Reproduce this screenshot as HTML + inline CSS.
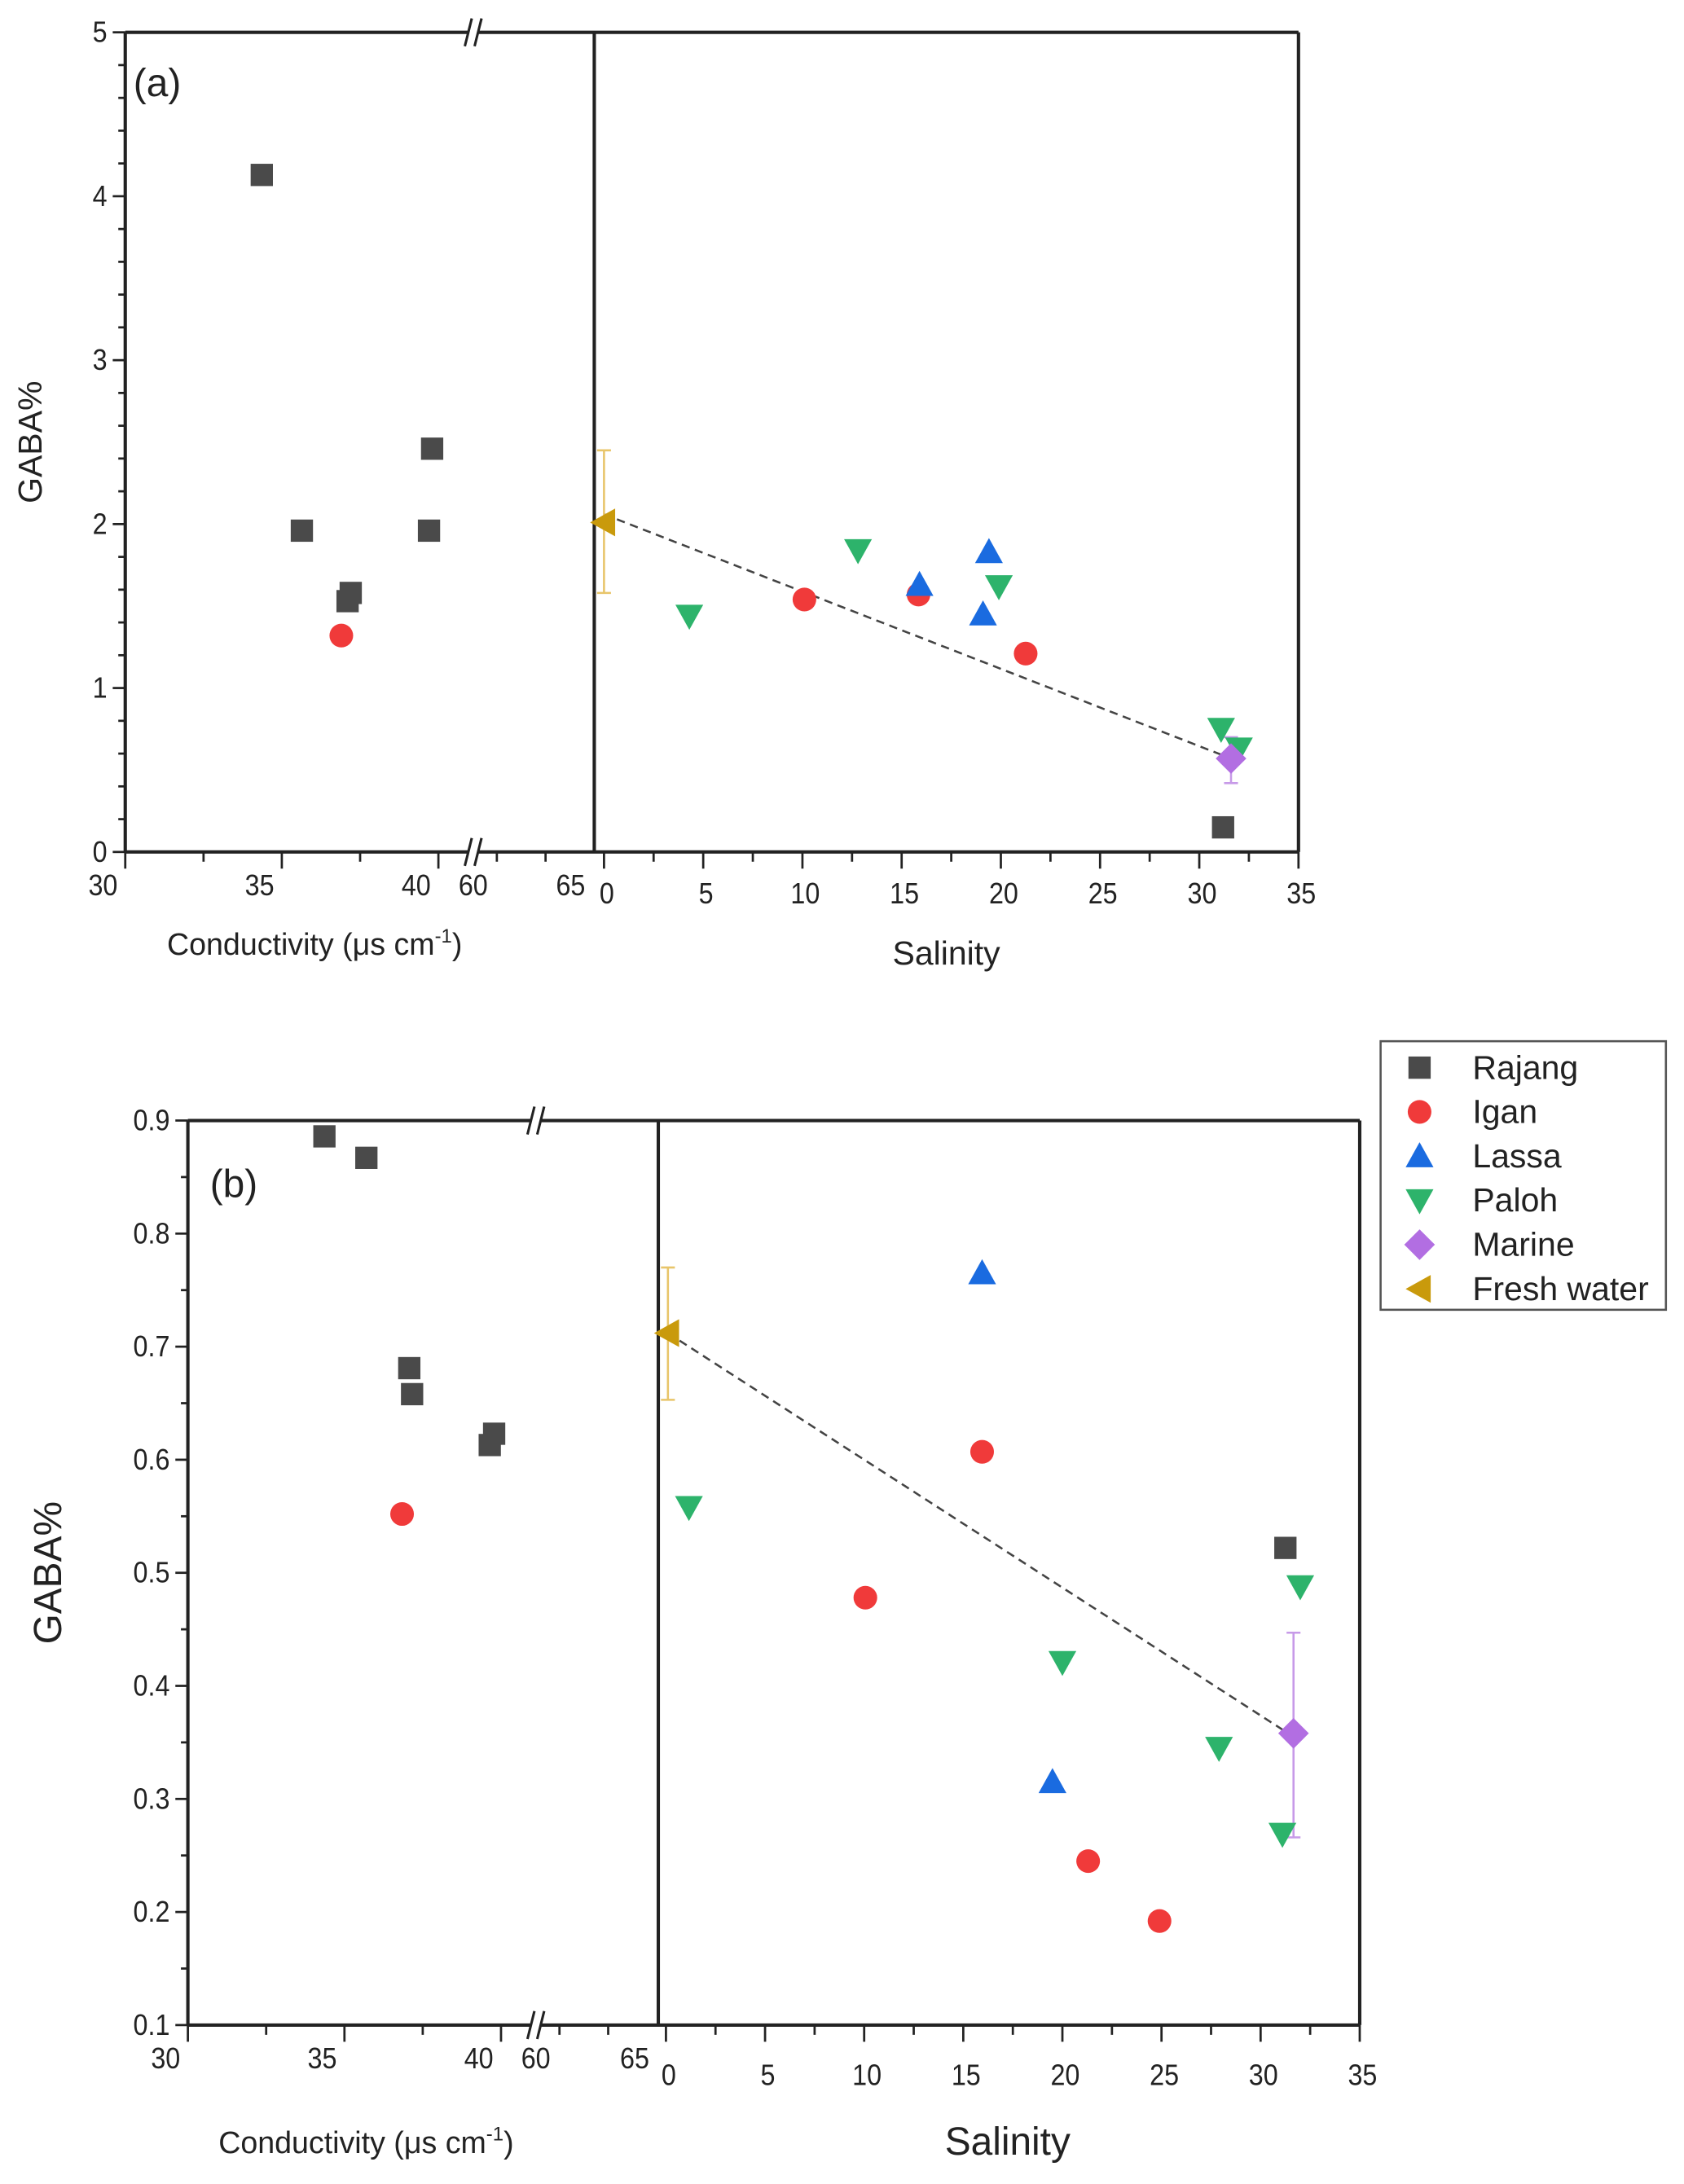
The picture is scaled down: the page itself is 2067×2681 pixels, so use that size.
<!DOCTYPE html>
<html><head><meta charset="utf-8"><style>
html,body{margin:0;padding:0;background:#fff;}
svg{display:block;font-family:"Liberation Sans",Arial,sans-serif;}
</style></head><body>
<svg id="chart" width="2067" height="2681" viewBox="0 0 1210 1569" xmlns="http://www.w3.org/2000/svg"></svg>
<script>
// ---------- DATA ----------
// Panel (a)
const aCondRajangX=[34.36,35.64,37.1,37.2,39.8,39.7];
const aCondRajangY=[4.13,1.96,1.53,1.58,2.46,1.96];
const aCondIganX=[36.9];
const aCondIganY=[1.32];
const aSalRajangX=[31.2];
const aSalRajangY=[0.15];
const aSalIganX=[10.1,15.85,21.25];
const aSalIganY=[1.54,1.57,1.21];
const aSalLassaX=[15.9,19.4,19.1];
const aSalLassaY=[1.63,1.83,1.45];
const aSalPalohX=[4.3,12.8,19.9,31.1,32.0];
const aSalPalohY=[1.44,1.84,1.62,0.75,0.63];
const aMarineX=[31.6];const aMarineY=[0.57];const aMarineErr=[0.42,0.70];
const aFreshX=[0];const aFreshY=[2.01];const aFreshErr=[1.58,2.45];
const aFit=[[0,2.06],[31.6,0.57]];
// Panel (b)
const bCondRajangX=[34.36,35.7,37.07,37.16,39.64,39.78];
const bCondRajangY=[0.886,0.867,0.681,0.658,0.613,0.623];
const bCondIganX=[36.84];
const bCondIganY=[0.552];
const bSalRajangX=[31.25];
const bSalRajangY=[0.522];
const bSalIganX=[10.06,15.95,21.3,24.9];
const bSalIganY=[0.478,0.607,0.245,0.192];
const bSalLassaX=[15.95,19.5];
const bSalLassaY=[0.765,0.315];
const bSalPalohX=[1.16,20.0,27.9,31.1,32.0];
const bSalPalohY=[0.558,0.421,0.345,0.269,0.488];
const bMarineX=[31.66];const bMarineY=[0.358];const bMarineErr=[0.266,0.447];
const bFreshX=[0.1];const bFreshY=[0.712];const bFreshErr=[0.653,0.77];
const bFit=[[0.1,0.712],[31.66,0.355]];
const legendLabels=["Rajang","Igan","Lassa","Paloh","Marine","Fresh water"];
// ---------- DRAW ----------
const svg=document.getElementById('chart');
const NS="http://www.w3.org/2000/svg";
function mk(tag,at,parent){const e=document.createElementNS(NS,tag);for(const k in at)e.setAttribute(k,at[k]);(parent||svg).appendChild(e);return e;}
function txt(s,x,y,size,anchor,parent){const t=mk('text',{x:x,y:y,'font-size':size,'text-anchor':anchor||'middle',fill:'#222'},parent);t.textContent=s;return t;}
function tick(s,x,y,parent){const t=mk('text',{x:0,y:0,'font-size':21,'text-anchor':'middle',fill:'#222',transform:`translate(${x} ${y}) scale(0.9 1)`},parent);t.textContent=s;return t;}
const COL={sq:'#4a4a4a',ci:'#f03a3a',up:'#1a6be0',dn:'#2db36b',di:'#b26ee2',lt:'#c99a0c'};
function marker(type,x,y,g){
  const s=8;let e;
  if(type==='sq')e=mk('rect',{x:x-s,y:y-s,width:2*s,height:2*s,fill:COL.sq},g);
  else if(type==='ci')e=mk('circle',{cx:x,cy:y,r:8.5,fill:COL.ci},g);
  else if(type==='up')e=mk('polygon',{points:`${x},${y-10} ${x+10},${y+8} ${x-10},${y+8}`,fill:COL.up},g);
  else if(type==='dn')e=mk('polygon',{points:`${x},${y+10} ${x+10},${y-8} ${x-10},${y-8}`,fill:COL.dn},g);
  else if(type==='di')e=mk('polygon',{points:`${x},${y-11} ${x+11},${y} ${x},${y+11} ${x-11},${y}`,fill:COL.di},g);
  else e=mk('polygon',{points:`${x-10},${y} ${x+8},${y-10} ${x+8},${y+10}`,fill:COL.lt},g);
  
  
  return e;
}
function panel(P){
  const g=mk('g',{});
  
  
  const yS=v=>P.bot-(v-P.ymin)/(P.ymax-P.ymin)*(P.bot-P.top);
  const cS=c=>P.L+(c-30)*P.cUnit;
  const sS=s=>P.s0+s*(P.s35-P.s0)/35;
  const ax={stroke:'#222','stroke-width':2.4,fill:'none'};
  mk('line',Object.assign({x1:P.L,y1:P.top,x2:P.L,y2:P.bot},ax),g);
  mk('line',Object.assign({x1:P.R,y1:P.top,x2:P.R,y2:P.bot},ax),g);
  mk('line',Object.assign({x1:P.div,y1:P.top,x2:P.div,y2:P.bot},ax),g);
  mk('line',Object.assign({x1:P.L,y1:P.top,x2:P.brk-4,y2:P.top},ax),g);
  mk('line',Object.assign({x1:P.brk+4,y1:P.top,x2:P.R,y2:P.top},ax),g);
  mk('line',Object.assign({x1:P.L,y1:P.bot,x2:P.brk-4,y2:P.bot},ax),g);
  mk('line',Object.assign({x1:P.brk+4,y1:P.bot,x2:P.R,y2:P.bot},ax),g);
  for(const yy of [P.top,P.bot]){
    mk('line',{x1:P.brk-6,y1:yy+10,x2:P.brk-1,y2:yy-10,stroke:'#222','stroke-width':1.8},g);
    mk('line',{x1:P.brk+1,y1:yy+10,x2:P.brk+6,y2:yy-10,stroke:'#222','stroke-width':1.8},g);
  }
  for(let v=P.ymin;v<=P.ymax+1e-9;v+=P.minor){
    const maj=Math.abs(Math.round(v/P.major)*P.major-v)<1e-6;
    mk('line',{x1:P.L,y1:yS(v),x2:P.L-(maj?9:5),y2:yS(v),stroke:'#222','stroke-width':1.6},g);
    if(maj){const t=mk('text',{x:0,y:0,'font-size':21,'text-anchor':'end',fill:'#222',transform:`translate(${P.L-13} ${yS(v)+7}) scale(0.9 1)`},g);t.textContent=P.yfmt(v);}
  }
  for(let c=30;c<=40;c+=2.5){const x=cS(c);const maj=c%5===0;mk('line',{x1:x,y1:P.bot,x2:x,y2:P.bot+(maj?12:7),stroke:'#222','stroke-width':1.6},g);
    if(maj){const t=tick(String(c),x-16,P.bot+31,g);}}
  P.extraTicks.forEach(x=>mk('line',{x1:x,y1:P.bot,x2:x,y2:P.bot+7,stroke:'#222','stroke-width':1.6},g));
  tick('60',P.brk,P.bot+31,g);
  tick('65',P.div-17,P.bot+31,g);
  for(let s=0;s<=35;s+=2.5){const x=sS(s);const maj=s%5===0;mk('line',{x1:x,y1:P.bot,x2:x,y2:P.bot+(maj?12:7),stroke:'#222','stroke-width':1.6},g);
    if(maj){const t=tick(String(s),x+2,P.bot+P.sOff,g);}}
  let t=txt('GABA%',P.ytx,(P.top+P.bot)/2,P.tfs,'middle',g);t.setAttribute('transform',`rotate(-90 ${P.ytx} ${(P.top+P.bot)/2})`);
  
  t=mk('text',{x:P.ctx,y:P.cty,'font-size':22,fill:'#222'},g);t.innerHTML='Conductivity (μs cm<tspan dy="-9" font-size="14">-1</tspan><tspan dy="9">)</tspan>';
  
  t=txt('Salinity',P.stx,P.sty,P.sfs,'middle',g);
  t=txt(P.label,P.lx,P.ly,28,'middle',g);
  const D=P.d;
  mk('line',{x1:sS(D.fit[0][0]),y1:yS(D.fit[0][1]),x2:sS(D.fit[1][0]),y2:yS(D.fit[1][1]),stroke:'#444','stroke-width':1.5,'stroke-dasharray':'6,4'},g);
  function eb(x,lo,hi,col){mk('line',{x1:x,y1:yS(lo),x2:x,y2:yS(hi),stroke:col,'stroke-width':1.5},g);
    mk('line',{x1:x-5,y1:yS(lo),x2:x+5,y2:yS(lo),stroke:col,'stroke-width':1.5},g);mk('line',{x1:x-5,y1:yS(hi),x2:x+5,y2:yS(hi),stroke:col,'stroke-width':1.5},g);}
  eb(sS(D.freshX[0]),D.freshErr[0],D.freshErr[1],'#e8c56a');
  eb(sS(D.marX[0]),D.marErr[0],D.marErr[1],'#c79ae8');
  D.cRX.forEach((c,i)=>marker('sq',cS(c),yS(D.cRY[i]),g));
  D.cIX.forEach((c,i)=>marker('ci',cS(c),yS(D.cIY[i]),g));
  D.sRX.forEach((s,i)=>marker('sq',sS(s),yS(D.sRY[i]),g));
  D.sIX.forEach((s,i)=>marker('ci',sS(s),yS(D.sIY[i]),g));
  D.sLX.forEach((s,i)=>marker('up',sS(s),yS(D.sLY[i]),g));
  D.sPX.forEach((s,i)=>marker('dn',sS(s),yS(D.sPY[i]),g));
  D.marX.forEach((s,i)=>marker('di',sS(s),yS(D.marY[i]),g));
  D.freshX.forEach((s,i)=>marker('lt',sS(s),yS(D.freshY[i]),g));
}
panel({id:'a',L:90,R:933,top:23,bot:612,div:427,brk:340,ymin:0,ymax:5,major:1,minor:0.2,yfmt:v=>String(Math.round(v)),
  cUnit:22.5,s0:434,s35:933,sOff:37,extraTicks:[357,392],ytx:30,tfs:24,ctx:120,cty:686,stx:680,sty:693,sfs:24,label:'(a)',lx:113,ly:69,
  d:{cRX:aCondRajangX,cRY:aCondRajangY,cIX:aCondIganX,cIY:aCondIganY,sRX:aSalRajangX,sRY:aSalRajangY,sIX:aSalIganX,sIY:aSalIganY,
     sLX:aSalLassaX,sLY:aSalLassaY,sPX:aSalPalohX,sPY:aSalPalohY,marX:aMarineX,marY:aMarineY,marErr:aMarineErr,freshX:aFreshX,freshY:aFreshY,freshErr:aFreshErr,fit:aFit}});
panel({id:'b',L:135,R:977,top:805,bot:1455,div:473,brk:385,ymin:0.1,ymax:0.9,major:0.1,minor:0.05,yfmt:v=>v.toFixed(1),
  cUnit:22.5,s0:478.5,s35:977,sOff:43,extraTicks:[402,437],ytx:44,tfs:28,ctx:157,cty:1547,stx:724,sty:1548,sfs:28,label:'(b)',lx:168,ly:860,
  d:{cRX:bCondRajangX,cRY:bCondRajangY,cIX:bCondIganX,cIY:bCondIganY,sRX:bSalRajangX,sRY:bSalRajangY,sIX:bSalIganX,sIY:bSalIganY,
     sLX:bSalLassaX,sLY:bSalLassaY,sPX:bSalPalohX,sPY:bSalPalohY,marX:bMarineX,marY:bMarineY,marErr:bMarineErr,freshX:bFreshX,freshY:bFreshY,freshErr:bFreshErr,fit:bFit}});
const lg=mk('g',{});


mk('rect',{x:992,y:748,width:205,height:193,fill:'#fff',stroke:'#555','stroke-width':1.5},lg);
const types=['sq','ci','up','dn','di','lt'];
legendLabels.forEach((l,i)=>{const y=767+i*31.8;marker(types[i],1020,y,lg);
  const t=txt(l,1058,y+8,24,'start',lg);});
</script>
</body></html>
